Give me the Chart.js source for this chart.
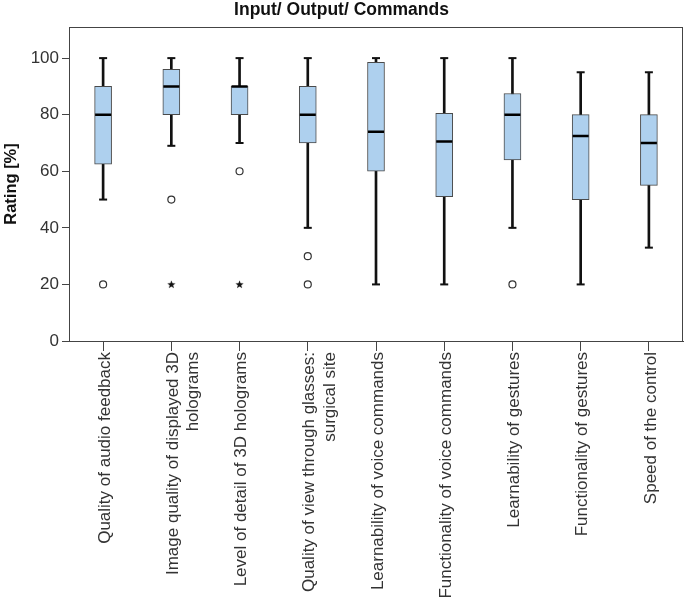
<!DOCTYPE html>
<html>
<head>
<meta charset="utf-8">
<script src="https://cdn.jsdelivr.net/npm/chart.js@4/dist/chart.umd.min.js"></script>
<style>
  html, body { margin: 0; padding: 0; background: #fff; }
</style>
</head>
<body>
<canvas id="chart" width="685" height="603"></canvas>
<script>
// rating data (percent)
const categories = [
  "Quality of audio feedback",
  "Image quality of displayed 3D\nholograms",
  "Level of detail of 3D holograms",
  "Quality of view through glasses:\nsurgical site",
  "Learnability of voice commands",
  "Functionality of voice commands",
  "Learnability of gestures",
  "Functionality of gestures",
  "Speed of the control"
]
const whiskerLow  = [50, 69, 70, 40, 20, 20, 40, 20, 33]
const q1          = [62.5, 80, 80, 70, 60, 51, 64, 50, 55]
const median      = [80, 90, 90, 80, 74, 70.5, 80, 72.5, 70]
const q3          = [90, 96, 90, 90, 98.5, 80.5, 87.5, 80, 80]
const whiskerHigh = [100, 100, 100, 100, 100, 100, 100, 95, 95]
// [category index, value]
const outliers = [[0, 20], [1, 50], [2, 60], [3, 30], [3, 20], [6, 20]]
const extremes = [[1, 20], [2, 20]]
const yTicks = [0, 20, 40, 60, 80, 100]

const FONT = "'Liberation Sans', Arial, sans-serif"

// small filled star used as the marker for extreme values
const starIcon = document.createElement('canvas')
starIcon.width = 9
starIcon.height = 9
;(() => {
  const s = starIcon.getContext('2d')
  s.fillStyle = '#111'
  s.beginPath()
  for (let k = 0; k < 10; k++) {
    const r = k % 2 ? 1.8 : 4.3
    const a = -Math.PI / 2 + k * Math.PI / 5
    const px = 4.5 + r * Math.cos(a), py = 4.8 + r * Math.sin(a)
    k ? s.lineTo(px, py) : s.moveTo(px, py)
  }
  s.closePath()
  s.fill()
})()

const frame = {
  id: 'frame',
  beforeDatasetsDraw(chart) {
    const a = chart.chartArea
    const c = chart.ctx
    c.save()
    c.strokeStyle = '#444'
    c.lineWidth = 1
    c.strokeRect(Math.round(a.left) + 0.5, Math.round(a.top) + 0.5,
      Math.round(a.right - a.left) - 1, Math.round(a.bottom - a.top))
    c.restore()
  }
}

const pts = (list) => list.map(([i, v]) => ({ x: categories[i], y: v }))

new Chart(document.getElementById('chart'), {
  type: 'bar',
  data: {
    labels: categories,
    datasets: [
      {
        label: 'whiskers',
        data: categories.map((_, i) => [whiskerLow[i], whiskerHigh[i]]),
        backgroundColor: '#111',
        barThickness: 2,
        grouped: false,
        order: 4
      },
      {
        label: 'boxes',
        data: categories.map((_, i) => [q1[i], q3[i]]),
        backgroundColor: '#aed0ee',
        borderColor: '#4a4a4a',
        borderWidth: 1,
        borderSkipped: false,
        barThickness: 17,
        grouped: false,
        order: 3
      },
      {
        type: 'scatter',
        label: 'caps',
        data: categories.map((c, i) => ({ x: c, y: whiskerLow[i] }))
          .concat(categories.map((c, i) => ({ x: c, y: whiskerHigh[i] }))),
        pointStyle: 'line',
        radius: 4,
        borderWidth: 2,
        borderColor: '#111',
        order: 2
      },
      {
        type: 'scatter',
        label: 'median',
        data: categories.map((c, i) => ({ x: c, y: median[i] })),
        pointStyle: 'line',
        radius: 8,
        borderWidth: 2.5,
        borderColor: '#000',
        order: 1
      },
      {
        type: 'scatter',
        label: 'outliers',
        data: pts(outliers),
        pointStyle: 'circle',
        radius: 3.5,
        backgroundColor: '#fff',
        borderColor: '#333',
        borderWidth: 1.2,
        order: 1
      },
      {
        type: 'scatter',
        label: 'extremes',
        data: pts(extremes),
        pointStyle: starIcon,
        radius: 4,
        order: 1
      }
    ]
  },
  options: {
    responsive: false,
    animation: false,
    layout: { autoPadding: false, padding: { top: 0, right: 2, left: 0, bottom: 0 } },
    plugins: {
      legend: { display: false },
      tooltip: { enabled: false },
      title: {
        display: true,
        text: 'Input/ Output/ Commands',
        color: '#111',
        font: { family: FONT, size: 17.5, weight: 'bold' },
        padding: { top: 0, bottom: 6 }
      }
    },
    scales: {
      x: {
        type: 'category',
        offset: true,
        grid: { offset: false, drawOnChartArea: false, tickLength: 10, color: '#444' },
        border: { color: '#444' },
        ticks: {
          autoSkip: false,
          maxRotation: 90,
          minRotation: 90,
          padding: 1,
          labelOffset: 2,
          color: '#333',
          font: { family: FONT, size: 17 },
          callback: function (v) { return this.getLabelForValue(v).split('\n') }
        },
        afterFit: (s) => { s.height = 262; s.paddingLeft = 0; s.paddingRight = 0 }
      },
      y: {
        min: 0,
        max: 111,
        grid: { drawOnChartArea: false, tickLength: 7, color: '#444' },
        border: { color: '#444' },
        afterBuildTicks: (s) => { s.ticks = yTicks.map(v => ({ value: v })) },
        ticks: {
          includeBounds: false,
          padding: 3,
          color: '#333',
          font: { family: FONT, size: 17 }
        },
        title: {
          display: true,
          text: 'Rating [%]',
          color: '#111',
          font: { family: FONT, size: 16.5, weight: 'bold' },
          padding: { top: 2, bottom: 0 }
        },
        afterFit: (s) => { s.width = 69 }
      }
    }
  },
  plugins: [frame]
})
</script>
</body>
</html>
